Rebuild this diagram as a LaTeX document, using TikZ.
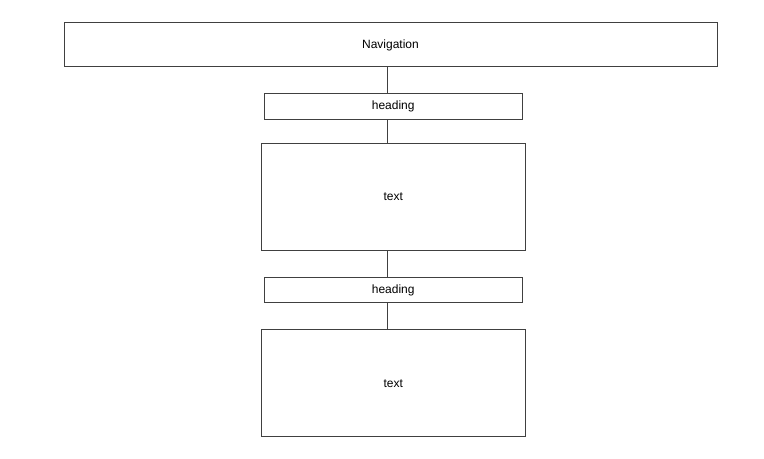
\documentclass[tikz,border=0pt]{standalone}
\usepackage{fontspec}
\setmainfont{Liberation Sans}
\begin{document}
\begin{tikzpicture}[x=0.75pt,y=-0.75pt,
  box/.style={draw=black!75, line width=0.75pt, fill=white, inner sep=0pt, font=\fontsize{9}{11}\selectfont},
  link/.style={draw=black!75, line width=0.75pt}]
\useasboundingbox (0,0) rectangle (764,459);
\node[box, minimum width=653*0.75pt, minimum height=44*0.75pt] (nav) at (390.5,45) {Navigation};
\node[box, minimum width=258*0.75pt, minimum height=25.5*0.75pt] (h1) at (393.2,106.7) {heading};
\node[box, minimum width=263.5*0.75pt, minimum height=107*0.75pt] (t1) at (393.3,196.8) {text};
\node[box, minimum width=258*0.75pt, minimum height=25.5*0.75pt] (h2) at (393.2,290) {heading};
\node[box, minimum width=263.5*0.75pt, minimum height=107*0.75pt] (t2) at (393.3,383.5) {text};
\draw[link] (387.3,0 |- nav.south) -- (387.3,0 |- h1.north);
\draw[link] (387.3,0 |- h1.south) -- (387.3,0 |- t1.north);
\draw[link] (387.3,0 |- t1.south) -- (387.3,0 |- h2.north);
\draw[link] (387.3,0 |- h2.south) -- (387.3,0 |- t2.north);
\end{tikzpicture}
\end{document}
